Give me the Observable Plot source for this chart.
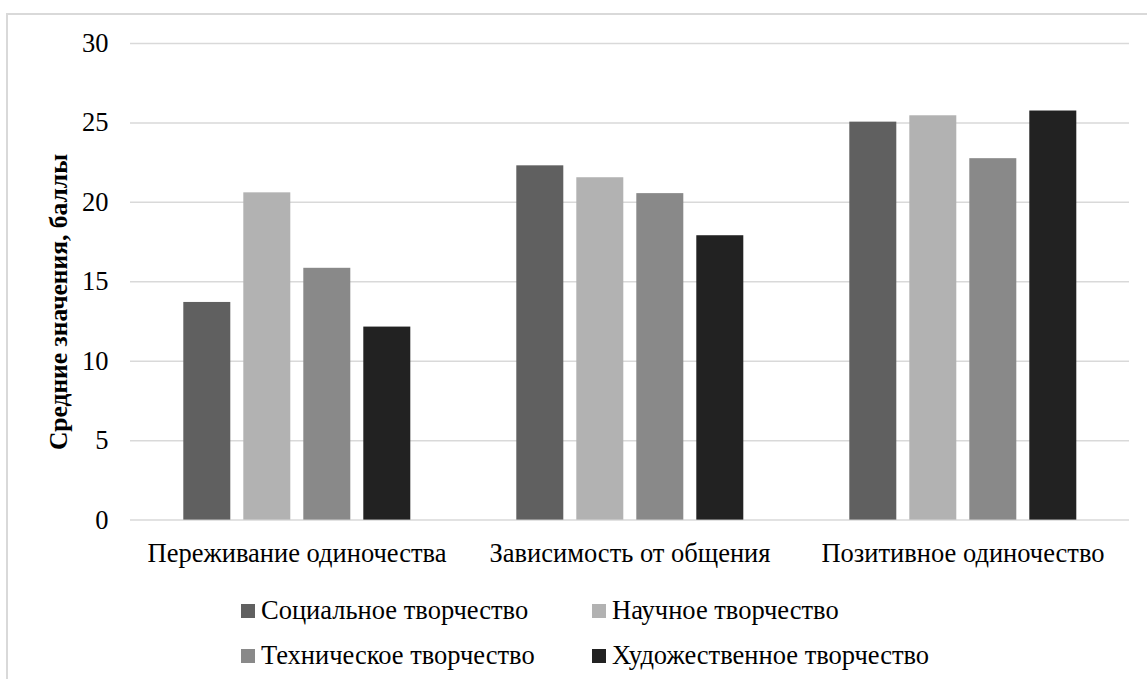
<!DOCTYPE html>
<html>
<head>
<meta charset="utf-8">
<script src="https://cdn.jsdelivr.net/npm/d3@7"></script>
<script src="https://cdn.jsdelivr.net/npm/@observablehq/plot@0.6"></script>
<style>
  html, body { margin: 0; padding: 0; background: #fff; }
  #wrap { position: relative; width: 1147px; height: 679px; overflow: hidden; }
  #frame { position: absolute; left: 6px; top: 13px; width: 1200px; height: 720px; border: 2px solid #d9d9d9; box-sizing: border-box; }
  #chart { position: absolute; left: 0; top: 0; }
  #ylabel { position: absolute; left: 58.5px; top: 302px; transform: translate(-50%, -50%) rotate(-90deg); font-weight: bold; font-size: 25.5px; white-space: nowrap; line-height: 1; }
  #legend { position: absolute; left: 241px; top: 588px; display: grid; grid-template-columns: 351px 351px; grid-auto-rows: 45px; font-size: 26.5px; color: #000; }
  .item { display: flex; align-items: center; white-space: nowrap; }
  .sw { width: 14px; height: 14px; margin-right: 6px; flex: none; }
</style>
</head>
<body style="font-family:'Liberation Serif', serif">
<div id="wrap" style="font-family:'Liberation Serif', serif">
  <div id="frame"></div>
  <div id="chart" style="font-family:'Liberation Serif', serif"></div>
  <div id="ylabel" style="font-family:'Liberation Serif', serif"></div>
  <div id="legend" style="font-family:'Liberation Serif', serif"></div>
</div>
<script>
const categories = ["Переживание одиночества", "Зависимость от общения", "Позитивное одиночество"];
const series = ["Социальное творчество", "Научное творчество", "Техническое творчество", "Художественное творчество"];
const socialValues = [13.7, 22.3, 25.05];
const scienceValues = [20.6, 21.55, 25.45];
const technicalValues = [15.85, 20.55, 22.75];
const artValues = [12.15, 17.9, 25.75];
const yTicks = [0, 5, 10, 15, 20, 25, 30];
const colors = ["#606060", "#b2b2b2", "#898989", "#222222"];
const yLabel = "Средние значения, баллы";

const seriesValues = [socialValues, scienceValues, technicalValues, artValues];
const data = [];
categories.forEach((c, i) => {
  series.forEach((s, j) => {
    data.push({category: c, series: s, value: seriesValues[j][i]});
  });
});

const chart = Plot.plot({
  width: 1147,
  height: 580,
  marginLeft: 128.7,
  marginRight: 17,
  marginTop: 43,
  marginBottom: 60.4,
  style: "font-family: 'Liberation Serif', serif; font-size: 26.5px; color: #000; background: transparent;",
  fx: {domain: categories, padding: 0, label: null, tickSize: 0, tickPadding: 23, axis: "bottom"},
  x: {domain: series, paddingInner: 0.215, paddingOuter: 0.867, axis: null},
  y: {domain: [0, 30], ticks: yTicks, tickSize: 0, tickPadding: 22, label: null, grid: false},
  color: {domain: series, range: colors},
  marks: [
    Plot.ruleY(yTicks, {stroke: "#d9d9d9", strokeWidth: 1.5}),
    Plot.barY(data, {fx: "category", x: "series", y: "value", fill: "series"})
  ]
});
document.getElementById("chart").appendChild(chart);
document.getElementById("ylabel").textContent = yLabel;

const legend = document.getElementById("legend");
series.forEach((s, i) => {
  const item = document.createElement("div");
  item.className = "item";
  const sw = document.createElement("span");
  sw.className = "sw";
  sw.style.background = colors[i];
  const t = document.createElement("span");
  t.textContent = s;
  item.appendChild(sw);
  item.appendChild(t);
  legend.appendChild(item);
});
</script>
</body>
</html>
